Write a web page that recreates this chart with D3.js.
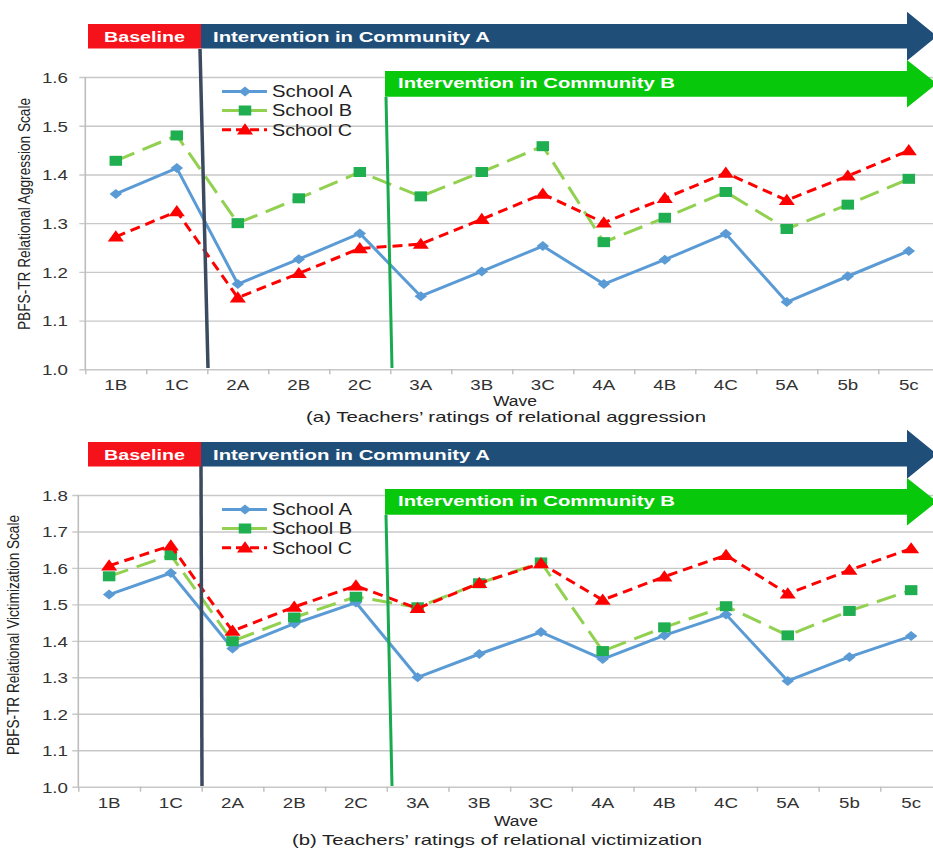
<!doctype html>
<html>
<head>
    <meta charset="utf-8">
    <title>Teachers' ratings of relational aggression and victimization</title>
    <script src="https://d3js.org/d3.v7.min.js"></script>
    <style>
        body { margin: 0; background: #fff; }
        svg { display: block; }
        text { font-family: "Liberation Sans", Arial, sans-serif; }
    </style>
</head>
<body>
<svg id="chart" width="933" height="850"></svg>
<script>
    // data
    const waves = ["1B", "1C", "2A", "2B", "2C", "3A", "3B", "3C", "4A", "4B", "4C", "5A", "5b", "5c"]
    const schools = ["School A", "School B", "School C"]

    // (a) relational aggression
    const aggrSchoolA = [1.360, 1.413, 1.175, 1.226, 1.279, 1.150, 1.201, 1.253, 1.175, 1.225, 1.278, 1.138, 1.191, 1.243]
    const aggrSchoolB = [1.428, 1.480, 1.300, 1.351, 1.405, 1.355, 1.405, 1.458, 1.261, 1.311, 1.364, 1.288, 1.338, 1.391]
    const aggrSchoolC = [1.272, 1.324, 1.147, 1.197, 1.248, 1.257, 1.308, 1.360, 1.301, 1.351, 1.403, 1.347, 1.397, 1.449]
    const aggrTicks = [1.0, 1.1, 1.2, 1.3, 1.4, 1.5, 1.6]

    // (b) relational victimization
    const victSchoolA = [1.527, 1.586, 1.379, 1.447, 1.505, 1.300, 1.364, 1.424, 1.350, 1.415, 1.472, 1.290, 1.356, 1.413]
    const victSchoolB = [1.577, 1.635, 1.399, 1.464, 1.521, 1.492, 1.558, 1.615, 1.372, 1.437, 1.495, 1.415, 1.482, 1.539]
    const victSchoolC = [1.606, 1.661, 1.427, 1.493, 1.551, 1.489, 1.558, 1.612, 1.512, 1.576, 1.635, 1.529, 1.594, 1.653]
    const victTicks = [1.0, 1.1, 1.2, 1.3, 1.4, 1.5, 1.6, 1.7, 1.8]

    const bannerLabels = ["Baseline", "Intervention in Community A", "Intervention in Community B"]

    // styles
    const STYLES = [
        { stroke: "#5b9bd5", dash: null, fill: "#5b9bd5", symbol: "diamond" },
        { stroke: "#92d050", dash: "20,9", fill: "#1fae50", symbol: "square" },
        { stroke: "#ff0000", dash: "10,6", fill: "#ff0000", symbol: "triangle" }
    ]
    const RED = "#f5121b", NAVY = "#1f4e79", GREEN = "#08c80c"
    const SX = 1.25   // picture is a bit wider than tall

    const panels = [
        {
            off: 0, top: 77, bottom: 369.3, left: 85.3, right: 939.3, pad: 11.3,
            ticks: aggrTicks, series: [aggrSchoolA, aggrSchoolB, aggrSchoolC],
            yLabel: "PBFS-TR Relational Aggression Scale", yLabelX: 30, yLabelY: 214, yLabelLen: 232,
            waveX: 515, waveY: 406, caption: "(a) Teachers\u2019 ratings of relational aggression",
            capX: 506, capY: 422, capLen: 400,
            navyLine: [[200, 49], [208, 368]], greenLine: [[386, 97], [392, 368]]
        },
        {
            off: 418, top: 495, bottom: 786.7, left: 78.3, right: 942, pad: 4.3,
            ticks: victTicks, series: [victSchoolA, victSchoolB, victSchoolC],
            yLabel: "PBFS-TR Relational Victimization Scale", yLabelX: 19, yLabelY: 635, yLabelLen: 240,
            waveX: 516, waveY: 826, caption: "(b) Teachers\u2019 ratings of relational victimization",
            capX: 497, capY: 845, capLen: 410,
            navyLine: [[201, 466], [202, 786]], greenLine: [[386, 515], [392, 786]]
        }
    ]

    const svg = d3.select("#chart")

    function symbolPath(kind) {
        if (kind === "diamond") return d3.symbol(d3.symbolSquare, 50)()
        if (kind === "square") return d3.symbol(d3.symbolSquare, 100)()
        return d3.symbol(d3.symbolTriangle, 72)()
    }
    function symbolTransform(kind, x, y) {
        let t = `translate(${x},${y}) scale(${SX},1)`
        if (kind === "diamond") t += " rotate(45)"
        if (kind === "triangle") t += " translate(0,1)"
        return t
    }

    function drawPanel(p) {
        const g = svg.append("g")
        const o = p.off

        const x = d3.scaleBand().domain(waves).range([p.left, p.right])
        const edge = d3.scaleLinear().domain([0, waves.length]).range([p.left, p.right])
        const y = d3.scaleLinear().domain([p.ticks[0], p.ticks[p.ticks.length - 1]]).range([p.bottom, p.top])
        const cx = (i) => x(waves[i]) + x.bandwidth() / 2

        // gridlines + y tick labels
        const yAxis = d3.axisLeft(y).tickValues(p.ticks).tickFormat(d3.format(".1f"))
            .tickSize(-(p.right - p.left + 6)).tickPadding(p.pad)
        const gy = g.append("g").attr("transform", `translate(${p.left - 6},0)`).call(yAxis)
        gy.select(".domain").remove()
        gy.selectAll(".tick line").attr("stroke", "#c8c8c8").attr("stroke-width", 1.4)
        gy.selectAll(".tick text")
            .attr("x", 0).attr("dy", "0.36em")
            .attr("transform", `translate(${-p.pad},0) scale(${SX},1)`)
            .attr("font-size", 15).attr("fill", "#333")

        // left axis line
        g.append("line").attr("x1", p.left).attr("x2", p.left)
            .attr("y1", p.top).attr("y2", p.bottom)
            .attr("stroke", "#bdbdbd").attr("stroke-width", 1.6)

        // category boundary ticks
        const gt = g.append("g").attr("transform", `translate(0,${p.bottom})`)
            .call(d3.axisBottom(edge).tickValues(d3.range(waves.length + 1)).tickSize(5).tickFormat(""))
        gt.select(".domain").remove()
        gt.selectAll(".tick line").attr("stroke", "#bdbdbd").attr("stroke-width", 1.4)

        // category labels
        const gx = g.append("g").attr("transform", `translate(0,${p.bottom})`)
            .call(d3.axisBottom(x).tickSize(0))
        gx.select(".domain").remove()
        gx.selectAll(".tick text")
            .attr("y", 0).attr("dy", null)
            .attr("transform", `translate(0,21) scale(${SX},1)`)
            .attr("font-size", 15).attr("fill", "#333")

        // banners
        g.append("polygon")
            .attr("points", [[201, 24 + o], [907, 24 + o], [907, 11.7 + o], [937, 36.2 + o], [907, 60.7 + o], [907, 48.5 + o], [201, 48.5 + o]].join(" "))
            .attr("fill", NAVY)
        g.append("polygon")
            .attr("points", [[385, 71 + o], [907, 71 + o], [907, 60 + o], [937, 83.7 + o], [907, 107.4 + o], [907, 96.7 + o], [385, 96.7 + o]].join(" "))
            .attr("fill", GREEN)
        g.append("rect").attr("x", 88).attr("y", 24 + o).attr("width", 113).attr("height", 24.5).attr("fill", RED)

        const bannerText = [
            { t: bannerLabels[0], x: 144.5, y: 41.6, len: 81, anchor: "middle" },
            { t: bannerLabels[1], x: 213, y: 41.6, len: 277, anchor: "start" },
            { t: bannerLabels[2], x: 398, y: 88.3, len: 277, anchor: "start" }
        ]
        g.selectAll(".banner").data(bannerText).enter().append("text")
            .attr("x", d => d.x).attr("y", d => d.y + o)
            .attr("text-anchor", d => d.anchor)
            .attr("textLength", d => d.len).attr("lengthAdjust", "spacingAndGlyphs")
            .attr("font-size", 14).attr("font-weight", "bold").attr("fill", "#fff")
            .text(d => d.t)

        // series
        const line = d3.line().x((d, i) => cx(i)).y(d => y(d))
        p.series.forEach((vals, k) => {
            const s = STYLES[k]
            g.append("path").datum(vals).attr("d", line)
                .attr("fill", "none").attr("stroke", s.stroke).attr("stroke-width", 3)
                .attr("stroke-dasharray", s.dash).attr("stroke-linejoin", "round")
            g.selectAll(".m" + k).data(vals).enter().append("path")
                .attr("d", symbolPath(s.symbol))
                .attr("transform", (d, i) => symbolTransform(s.symbol, cx(i), y(d)))
                .attr("fill", s.fill)
        })

        // phase lines
        g.append("line")
            .attr("x1", p.navyLine[0][0]).attr("y1", p.navyLine[0][1])
            .attr("x2", p.navyLine[1][0]).attr("y2", p.navyLine[1][1])
            .attr("stroke", "#3b4a5e").attr("stroke-width", 3.5)
        g.append("line")
            .attr("x1", p.greenLine[0][0]).attr("y1", p.greenLine[0][1])
            .attr("x2", p.greenLine[1][0]).attr("y2", p.greenLine[1][1])
            .attr("stroke", "#19aa4f").attr("stroke-width", 3)

        // legend
        const legY = [91.5, 110.5, 129.8]
        schools.forEach((name, k) => {
            const s = STYLES[k]
            const ly = legY[k] + o
            g.append("line").attr("x1", 222).attr("x2", 267).attr("y1", ly).attr("y2", ly)
                .attr("stroke", s.stroke).attr("stroke-width", 3)
                .attr("stroke-dasharray", k === 2 ? "9,5" : null)
            g.append("path").attr("d", symbolPath(s.symbol))
                .attr("transform", symbolTransform(s.symbol, 245, ly)).attr("fill", s.fill)
            g.append("text").attr("x", 272).attr("y", ly + 5.8)
                .attr("textLength", 80).attr("lengthAdjust", "spacingAndGlyphs")
                .attr("font-size", 16.5).attr("fill", "#222").text(name)
        })

        // axis titles
        g.append("text")
            .attr("transform", `translate(${p.yLabelX},${p.yLabelY}) rotate(-90) scale(1,${SX})`)
            .attr("text-anchor", "middle")
            .attr("textLength", p.yLabelLen).attr("lengthAdjust", "spacingAndGlyphs")
            .attr("font-size", 13.8).attr("fill", "#222").text(p.yLabel)
        g.append("text").attr("x", p.waveX).attr("y", p.waveY)
            .attr("text-anchor", "middle")
            .attr("textLength", 44).attr("lengthAdjust", "spacingAndGlyphs")
            .attr("font-size", 14).attr("fill", "#222").text("Wave")
        g.append("text").attr("x", p.capX).attr("y", p.capY)
            .attr("text-anchor", "middle")
            .attr("textLength", p.capLen).attr("lengthAdjust", "spacingAndGlyphs")
            .attr("font-size", 14.5).attr("fill", "#222").text(p.caption)
    }

    panels.forEach(drawPanel)
</script>
</body>
</html>
